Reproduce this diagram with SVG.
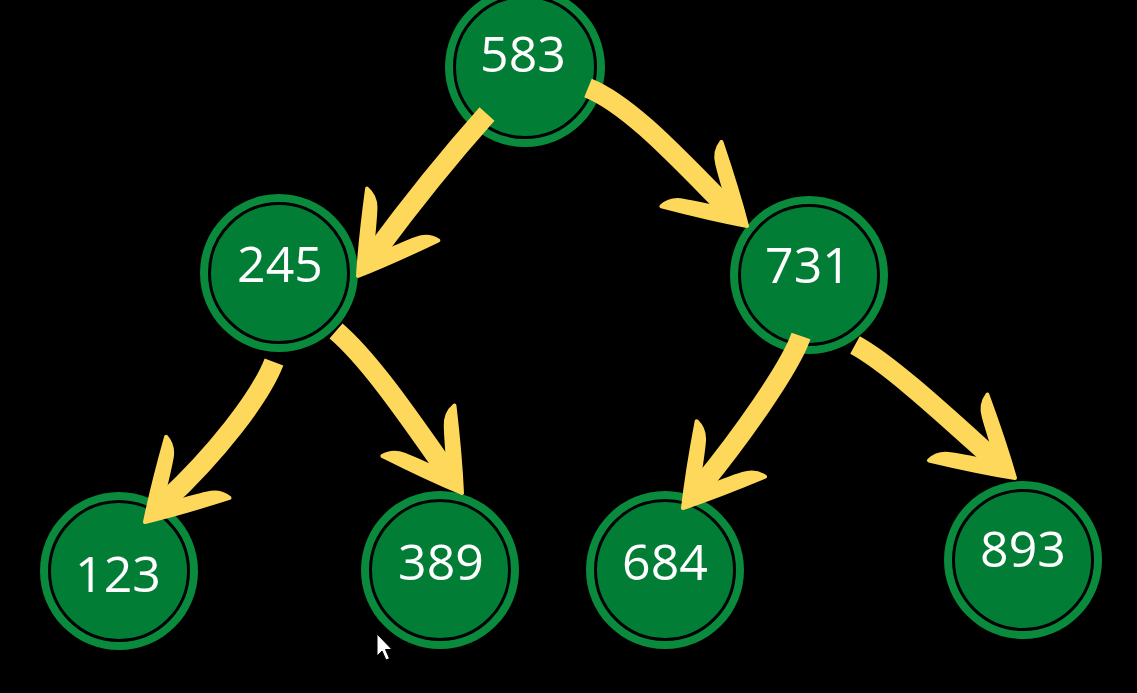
<svg xmlns="http://www.w3.org/2000/svg" xmlns:xlink="http://www.w3.org/1999/xlink" width="1137" height="693" viewBox="0 0 1137 693">
<style>
.ring{fill:#0a8a3c}
.core{fill:#017d35;stroke:#000;stroke-width:3}
.lbl{font-family:"Open Sans","Noto Sans","DejaVu Sans",sans-serif;font-size:50px;fill:#fff;text-anchor:middle}
.shaft{fill:none;stroke:#fdd85a;stroke-width:20;stroke-linecap:butt}
.head{fill:#fdd85a;stroke:#fdd85a;stroke-width:4;stroke-linejoin:round}
</style>
<defs>
<path id="head" class="head" d="M0,0 C-22,-14 -50,-30 -76,-44 Q-75,-32 -64,-25 C-55,-19 -46,-14 -38,-9 L-38,9 C-46,14 -55,19 -64,25 Q-75,32 -76,44 C-50,30 -22,14 0,0 Z"/>
</defs>
<rect width="1137" height="693" fill="#000"/>
<g id="n583"><circle class="ring" cx="525" cy="67" r="80"/><circle class="core" cx="525" cy="67" r="70.5"/><text class="lbl" x="523" y="72">583</text></g>
<g id="n245"><circle class="ring" cx="279" cy="273" r="79"/><circle class="core" cx="279" cy="273" r="69.5"/><text class="lbl" x="280" y="282">245</text></g>
<g id="n731"><circle class="ring" cx="809" cy="275" r="79"/><circle class="core" cx="809" cy="275" r="69.5"/><text class="lbl" x="808" y="283">731</text></g>
<g id="n123"><circle class="ring" cx="119" cy="571" r="79"/><circle class="core" cx="119" cy="571" r="69.5"/><text class="lbl" x="118" y="592">123</text></g>
<g id="n389"><circle class="ring" cx="440" cy="570" r="79"/><circle class="core" cx="440" cy="570" r="69.5"/><text class="lbl" x="441" y="580">389</text></g>
<g id="n684"><circle class="ring" cx="665" cy="570" r="79"/><circle class="core" cx="665" cy="570" r="69.5"/><text class="lbl" x="665" y="580">684</text></g>
<g id="n893"><circle class="ring" cx="1023" cy="560" r="79"/><circle class="core" cx="1023" cy="560" r="69.5"/><text class="lbl" x="1023" y="567">893</text></g>
<g id="connectors">
<path class="shaft" d="M487,114 Q430,178 374.5,253.3"/>
<use xlink:href="#head" transform="translate(358,276) rotate(126)"/>
<path class="shaft" d="M588,88 C630,105 680,160 726.5,206.9"/>
<use xlink:href="#head" transform="translate(747,226) rotate(43)"/>
<path class="shaft" d="M274,362 C260,398 215,455 164.5,501.9"/>
<use xlink:href="#head" transform="translate(145,522) rotate(134)"/>
<path class="shaft" d="M336,331 C370,360 410,419 446,470"/>
<use xlink:href="#head" transform="translate(462,493) rotate(55)"/>
<path class="shaft" d="M801,336 C790,368 740,438 700.6,486.2"/>
<use xlink:href="#head" transform="translate(683,508) rotate(129)"/>
<path class="shaft" d="M855,345 C890,364 948,418 994,459.4"/>
<use xlink:href="#head" transform="translate(1015,478) rotate(41.6)"/>
</g>
<path d="M377,634 L377,656 L382,651 L386,660 L389.5,658.5 L385.5,649.5 L392,649.5 Z" fill="#fff" stroke="#000" stroke-width="1"/>
</svg>
